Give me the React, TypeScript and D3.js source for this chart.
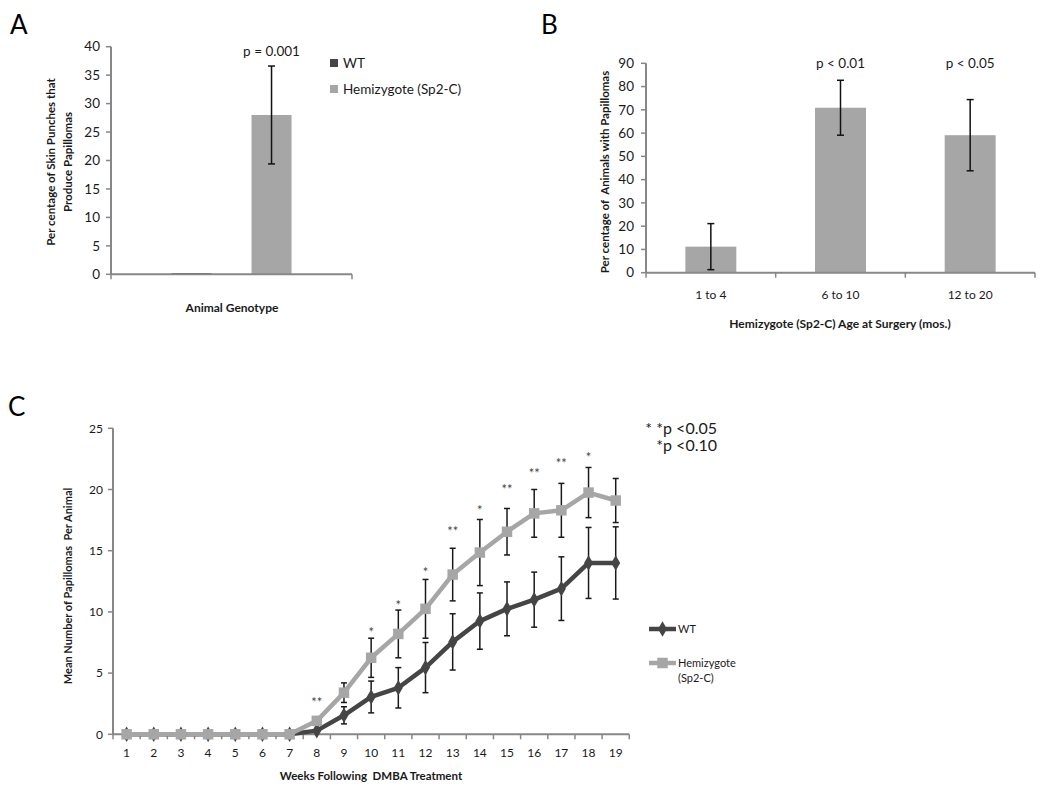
import React from 'react';
import * as d3 from 'd3';

const A_SERIES = ['WT', 'Hemizygote (Sp2-C)'];
const A_CATEGORY = ['Animal Genotype'];
const A_VALUES = [0.2, 28];
const A_ERRORS = [0, 8.6];
const A_YTICKS = [0, 5, 10, 15, 20, 25, 30, 35, 40];
const A_PLABEL = 'p = 0.001';

const B_CATEGORIES = ['1 to 4', '6 to 10', '12 to 20'];
const B_VALUES = [11.2, 70.9, 59.1];
const B_ERRORS = [9.9, 11.8, 15.3];
const B_PLABELS = ['', 'p < 0.01', 'p < 0.05'];
const B_YTICKS = [0, 10, 20, 30, 40, 50, 60, 70, 80, 90];

const C_WEEKS = ['1', '2', '3', '4', '5', '6', '7', '8', '9', '10', '11', '12', '13', '14', '15', '16', '17', '18', '19'];
const C_WT = [0, 0, 0, 0, 0, 0, 0, 0.3, 1.55, 3.05, 3.8, 5.45, 7.55, 9.25, 10.25, 11.0, 11.9, 14.0, 14.0];
const C_WT_ERR = [0, 0, 0, 0, 0, 0, 0, 0, 0.7, 1.3, 1.65, 2.05, 2.3, 2.3, 2.2, 2.25, 2.6, 2.9, 2.95];
const C_HEMI = [0, 0, 0, 0, 0, 0, 0, 1.1, 3.4, 6.25, 8.2, 10.25, 13.05, 14.85, 16.55, 18.05, 18.3, 19.75, 19.1];
const C_HEMI_ERR = [0, 0, 0, 0, 0, 0, 0, 0, 0.8, 1.6, 1.95, 2.4, 2.15, 2.7, 1.9, 1.95, 2.2, 2.05, 1.8];
const C_STARS = ['', '', '', '', '', '', '', '**', '', '*', '*', '*', '**', '*', '**', '**', '**', '*', ''];
const C_STAR_LEVEL = [0, 0, 0, 0, 0, 0, 0, 2.8, 0, 8.5, 10.75, 13.4, 16.75, 18.5, 20.2, 21.5, 22.3, 22.8, 0];
const C_YTICKS = [0, 5, 10, 15, 20, 25];
const C_SERIES = ['WT', 'Hemizygote'];

const FONT = 'Lato, "Open Sans", sans-serif';
const AXIS = '#878787';
const DARK = '#454545';
const LIGHT = '#a6a6a6';
const TXT = '#1a1a1a';

function ErrBar({ x, y1, y2, cap = 3.5, color = '#111', w = 1.5 }: any) {
  return (
    <g stroke={color} strokeWidth={w}>
      <line x1={x} x2={x} y1={y1} y2={y2} />
      <line x1={x - cap} x2={x + cap} y1={y1} y2={y1} />
      <line x1={x - cap} x2={x + cap} y1={y2} y2={y2} />
    </g>
  );
}

function PanelA() {
  const y = d3.scaleLinear().domain([0, 40]).range([274.3, 46.7]);
  const x0 = d3.scaleBand().domain(A_CATEGORY).range([111, 352]);
  const x1 = d3.scaleBand().domain(A_SERIES).range([0, x0.bandwidth()]).paddingInner(0.5).paddingOuter(0.755);
  const cx = x0(A_CATEGORY[0])!;
  const colors = [DARK, LIGHT];
  return (
    <g>
      <text x={10} y={34} fontSize={26} fontFamily={FONT} fill="#000">A</text>
      {A_SERIES.map((s, i) => (
        <rect key={s} x={cx + x1(s)!} width={x1.bandwidth()} y={y(A_VALUES[i])} height={y(0) - y(A_VALUES[i])} fill={colors[i]} />
      ))}
      <line x1={111} x2={111} y1={y(40)} y2={y(0)} stroke={AXIS} strokeWidth={2} />
      {A_YTICKS.map((t) => (
        <g key={t}>
          <line x1={106} x2={111} y1={y(t)} y2={y(t)} stroke={AXIS} strokeWidth={1.5} />
          <text x={100} y={y(t)} dy="0.35em" textAnchor="end" fontSize={13.5} fontFamily={FONT} fill={TXT}>{t}</text>
        </g>
      ))}
      <line x1={111} x2={352} y1={y(0)} y2={y(0)} stroke={AXIS} strokeWidth={2} />
      <line x1={111} x2={111} y1={y(0)} y2={y(0) + 5} stroke={AXIS} strokeWidth={1.5} />
      <line x1={352} x2={352} y1={y(0)} y2={y(0) + 5} stroke={AXIS} strokeWidth={1.5} />
      {A_SERIES.map((s, i) =>
        A_ERRORS[i] > 0 ? (
          <ErrBar key={s} x={cx + x1(s)! + x1.bandwidth() / 2} y1={y(A_VALUES[i] + A_ERRORS[i])} y2={y(A_VALUES[i] - A_ERRORS[i])} />
        ) : null
      )}
      <text x={cx + x1(A_SERIES[1])! + x1.bandwidth() / 2} y={56} textAnchor="middle" fontSize={13.5} fontFamily={FONT} fill={TXT}>{A_PLABEL}</text>
      <text x={232} y={312} textAnchor="middle" fontSize={12} fontWeight="bold" fontFamily={FONT} fill={TXT}>{A_CATEGORY[0]}</text>
      <text transform="translate(55,162) rotate(-90)" textAnchor="middle" fontSize={11.5} fontWeight="bold" fontFamily={FONT} fill={TXT}>
        <tspan x={0} dy={0}>Per centage of Skin Punches that</tspan>
        <tspan x={0} dy={17}>Produce Papillomas</tspan>
      </text>
      {A_SERIES.map((s, i) => (
        <g key={s} transform={`translate(330,${63 + i * 26})`}>
          <rect x={0} y={-4} width={8} height={8} fill={colors[i]} />
          <text x={13} y={0} dy="0.35em" fontSize={13.5} fontFamily={FONT} fill={TXT}>{s}</text>
        </g>
      ))}
    </g>
  );
}

function PanelB() {
  const y = d3.scaleLinear().domain([0, 90]).range([272.7, 63.3]);
  const x = d3.scaleBand().domain(B_CATEGORIES).range([646, 1035]).paddingInner(0.607).paddingOuter(0.3035);
  const xt = d3.scaleBand().domain(B_CATEGORIES).range([646, 1035]);
  return (
    <g>
      <text x={541} y={34} fontSize={26} fontFamily={FONT} fill="#000">B</text>
      {B_CATEGORIES.map((c, i) => (
        <rect key={c} x={x(c)!} width={x.bandwidth()} y={y(B_VALUES[i])} height={y(0) - y(B_VALUES[i])} fill={LIGHT} />
      ))}
      <line x1={646} x2={646} y1={y(90)} y2={y(0)} stroke={AXIS} strokeWidth={2} />
      {B_YTICKS.map((t) => (
        <g key={t}>
          <line x1={641} x2={646} y1={y(t)} y2={y(t)} stroke={AXIS} strokeWidth={1.5} />
          <text x={634} y={y(t)} dy="0.35em" textAnchor="end" fontSize={13.5} fontFamily={FONT} fill={TXT}>{t}</text>
        </g>
      ))}
      <line x1={646} x2={1035} y1={y(0)} y2={y(0)} stroke={AXIS} strokeWidth={2} />
      {[...B_CATEGORIES.map((c) => xt(c)!), 1035].map((tx, i) => (
        <line key={i} x1={tx} x2={tx} y1={y(0)} y2={y(0) + 5} stroke={AXIS} strokeWidth={1.5} />
      ))}
      {B_CATEGORIES.map((c, i) => {
        const cx = x(c)! + x.bandwidth() / 2;
        return (
          <g key={c}>
            <ErrBar x={cx} y1={y(B_VALUES[i] + B_ERRORS[i])} y2={y(B_VALUES[i] - B_ERRORS[i])} />
            <text x={cx} y={299} textAnchor="middle" fontSize={12} fontFamily={FONT} fill={TXT}>{c}</text>
            {B_PLABELS[i] ? (
              <text x={cx} y={68} textAnchor="middle" fontSize={13.5} fontFamily={FONT} fill={TXT}>{B_PLABELS[i]}</text>
            ) : null}
          </g>
        );
      })}
      <text x={840} y={328} textAnchor="middle" fontSize={12} fontWeight="bold" fontFamily={FONT} fill={TXT}>Hemizygote (Sp2-C) Age at Surgery (mos.)</text>
      <text transform="translate(609,172) rotate(-90)" textAnchor="middle" fontSize={11.5} fontWeight="bold" fontFamily={FONT} fill={TXT} style={{ whiteSpace: 'pre' }}>Per centage of  Animals with Papillomas</text>
    </g>
  );
}

function PanelC() {
  const y = d3.scaleLinear().domain([0, 25]).range([734.3, 428.3]);
  const x = d3.scaleBand().domain(C_WEEKS).range([113, 629.3]);
  const cx = (w: string) => x(w)! + x.bandwidth() / 2;
  const line = d3.line<number>().x((_, i) => cx(C_WEEKS[i])).y((v) => y(v));
  const diamond = d3.symbol().type(d3.symbolDiamond).size(70)()!;
  const square = d3.symbol().type(d3.symbolSquare).size(110)()!;
  return (
    <g>
      <text x={8} y={416} fontSize={26} fontFamily={FONT} fill="#000">C</text>
      <line x1={113} x2={113} y1={y(25)} y2={y(0)} stroke={AXIS} strokeWidth={2} />
      {C_YTICKS.map((t) => (
        <g key={t}>
          <line x1={108} x2={113} y1={y(t)} y2={y(t)} stroke={AXIS} strokeWidth={1.5} />
          <text x={103} y={y(t)} dy="0.35em" textAnchor="end" fontSize={12} fontFamily={FONT} fill={TXT}>{t}</text>
        </g>
      ))}
      <line x1={113} x2={629.3} y1={y(0)} y2={y(0)} stroke={AXIS} strokeWidth={2} />
      {[...C_WEEKS.map((w) => x(w)!), 629.3].map((tx, i) => (
        <line key={i} x1={tx} x2={tx} y1={y(0)} y2={y(0) + 5} stroke={AXIS} strokeWidth={1.5} />
      ))}
      {C_WEEKS.map((w) => (
        <text key={w} x={cx(w)} y={757} textAnchor="middle" fontSize={12} fontFamily={FONT} fill={TXT}>{w}</text>
      ))}
      {C_WEEKS.map((w, i) =>
        C_WT_ERR[i] > 0 ? <ErrBar key={'we' + w} x={cx(w)} cap={3} y1={y(C_WT[i] + C_WT_ERR[i])} y2={y(C_WT[i] - C_WT_ERR[i])} color="#1a1a1a" /> : null
      )}
      {C_WEEKS.map((w, i) =>
        C_HEMI_ERR[i] > 0 ? <ErrBar key={'he' + w} x={cx(w)} cap={3} y1={y(C_HEMI[i] + C_HEMI_ERR[i])} y2={y(C_HEMI[i] - C_HEMI_ERR[i])} color="#1a1a1a" /> : null
      )}
      <path d={line(C_WT)!} fill="none" stroke={DARK} strokeWidth={4.5} strokeLinejoin="round" />
      {C_WT.map((v, i) => (
        <path key={'wm' + i} d={diamond} transform={`translate(${cx(C_WEEKS[i])},${y(v)})`} fill={DARK} />
      ))}
      <path d={line(C_HEMI)!} fill="none" stroke={LIGHT} strokeWidth={4.5} strokeLinejoin="round" />
      {C_HEMI.map((v, i) => (
        <path key={'hm' + i} d={square} transform={`translate(${cx(C_WEEKS[i])},${y(v)})`} fill={LIGHT} />
      ))}
      {C_WEEKS.map((w, i) =>
        C_STARS[i] ? (
          <text key={'s' + w} x={cx(w)} y={y(C_STAR_LEVEL[i]) + 7} textAnchor="middle" fontSize={13} fontFamily={FONT} fill="#444">{C_STARS[i]}</text>
        ) : null
      )}
      <text x={371} y={780} textAnchor="middle" fontSize={11.5} fontWeight="bold" fontFamily={FONT} fill={TXT} style={{ whiteSpace: 'pre' }}>Weeks Following  DMBA Treatment</text>
      <text transform="translate(72,586) rotate(-90)" textAnchor="middle" fontSize={11} fontWeight="bold" fontFamily={FONT} fill={TXT} style={{ whiteSpace: 'pre' }}>Mean Number of Papillomas  Per Animal</text>
      <text x={717} y={434} textAnchor="end" fontSize={16} fontFamily={FONT} fill={TXT}>* *p &lt;0.05</text>
      <text x={717} y={451} textAnchor="end" fontSize={16} fontFamily={FONT} fill={TXT}>*p &lt;0.10</text>
      <g transform="translate(649,629)">
        <line x1={0} x2={27} y1={0} y2={0} stroke={DARK} strokeWidth={4.5} />
        <path d={diamond} transform="translate(13.5,0)" fill={DARK} />
        <text x={29} y={0} dy="0.35em" fontSize={11} fontFamily={FONT} fill={TXT}>{C_SERIES[0]}</text>
      </g>
      <g transform="translate(649,663)">
        <line x1={0} x2={27} y1={0} y2={0} stroke={LIGHT} strokeWidth={4.5} />
        <path d={square} transform="translate(13.5,0)" fill={LIGHT} />
        <text x={29} y={0} dy="0.35em" fontSize={11} fontFamily={FONT} fill={TXT}>
          <tspan x={29}>{C_SERIES[1]}</tspan>
          <tspan x={29} dy={15}>(Sp2-C)</tspan>
        </text>
      </g>
    </g>
  );
}

export default function App() {
  return (
    <svg width={1050} height={805} style={{ position: 'absolute', left: 0, top: 0, background: '#fff' }}>
      <rect width={1050} height={805} fill="#fff" />
      <PanelA />
      <PanelB />
      <PanelC />
    </svg>
  );
}
